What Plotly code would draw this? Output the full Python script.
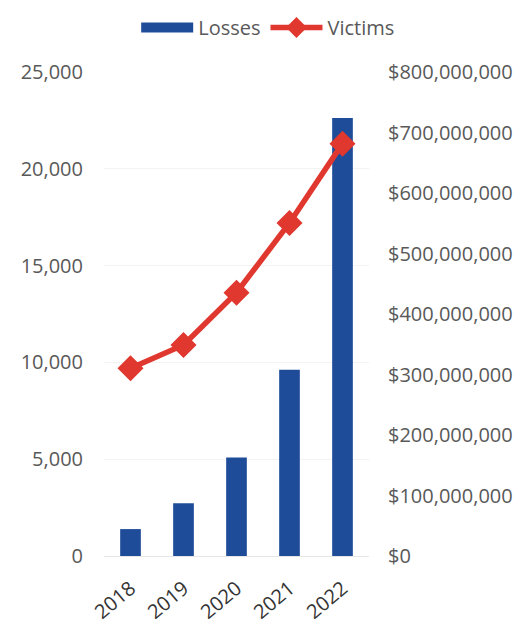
import plotly.graph_objects as go

years = ["2018", "2019", "2020", "2021", "2022"]
losses = [44500000, 87000000, 163000000, 308000000, 724000000]
victims = [9700, 10900, 13600, 17200, 21300]

left_ticks = [0, 5000, 10000, 15000, 20000, 25000]
right_ticks = [0, 100e6, 200e6, 300e6, 400e6, 500e6, 600e6, 700e6, 800e6]

BLUE = "#1E4C99"
RED = "#E0372F"
GRAY = "#595959"
FONT = "Open Sans"

fig = go.Figure()
fig.add_trace(go.Bar(
    x=years, y=losses, name="Losses", yaxis="y",
    marker=dict(color=BLUE, line=dict(width=0)),
    showlegend=False,
))
# legend stand-in for the bars (wide swatch)
fig.add_trace(go.Scatter(
    x=[None], y=[None], name="Losses", mode="lines", yaxis="y",
    line=dict(color=BLUE, width=12),
))
fig.add_trace(go.Scatter(
    x=years, y=victims, name="Victims", yaxis="y2",
    mode="lines+markers",
    line=dict(color=RED, width=5.5),
    marker=dict(symbol="diamond", size=20, color=RED),
))

fig.update_layout(
    width=531, height=624,
    margin=dict(l=96, r=170, t=64, b=76, autoexpand=False),
    paper_bgcolor="white", plot_bgcolor="white",
    font=dict(family=FONT, color=GRAY, size=20),
    bargap=0.61,
    legend=dict(
        orientation="h", xref="container", yref="container",
        x=0.49, xanchor="center", y=1.0, yanchor="top",
        font=dict(size=20, color=GRAY), itemwidth=52,
        traceorder="normal", itemclick=False,
    ),
    xaxis=dict(
        type="category", tickangle=-40, showgrid=False, automargin=False,
        showline=True, linecolor="#E6E6E6", linewidth=1,
        ticks="outside", ticklen=12, tickcolor="white",
        tickfont=dict(size=20, color="#333333"),
    ),
    yaxis=dict(
        side="right", range=[0, 800e6], tickvals=right_ticks, automargin=False,
        tickformat="$,.0f", showgrid=False, zeroline=False,
        ticks="outside", ticklen=14, tickcolor="white",
        tickfont=dict(size=20, color=GRAY),
    ),
    yaxis2=dict(
        side="left", overlaying="y", range=[0, 25000], tickvals=left_ticks,
        automargin=False,
        tickformat=",.0f", showgrid=True, gridcolor="#F3F3F3",
        zeroline=False,
        ticks="outside", ticklen=16, tickcolor="white",
        tickfont=dict(size=20, color=GRAY),
    ),
)

fig.write_html("out.html")
